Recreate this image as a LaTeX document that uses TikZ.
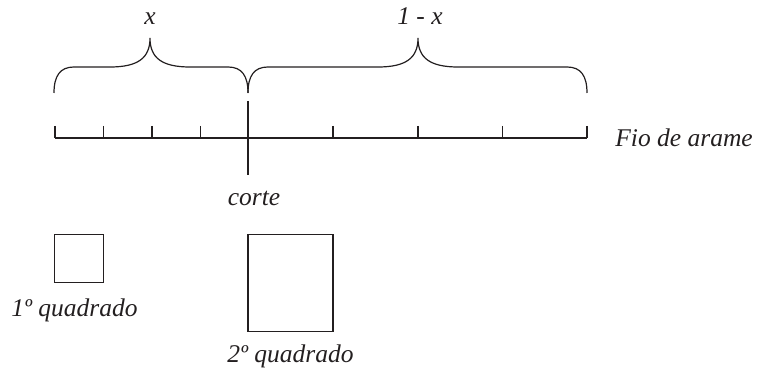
\documentclass[tikz,border=0pt]{standalone}
\usepackage{fontspec}
\setmainfont{Liberation Serif}
\usepackage{tikz}
\usetikzlibrary{positioning, calc}
\definecolor{wireblack}{RGB}{35,31,32}

% chave: ponta esquerda, bico, ponta direita
\newcommand{\chave}[3]{%
    \draw[wire] (#1,93) .. controls (#1,76) and (#1+6,67) .. (#1+20,67)
        -- (#2-40,67) .. controls (#2-12,67) and (#2,58) .. (#2,38)
        .. controls (#2,58) and (#2+12,67) .. (#2+40,67)
        -- (#3-20,67) .. controls (#3-6,67) and (#3,76) .. (#3,93);}

\begin{document}
\begin{tikzpicture}[
        x=0.5pt, y=-0.5pt,
        wire/.style={draw=wireblack, line width=0.6pt},
        rotulo/.style={inner sep=0pt, anchor=base, text=wireblack, font=\fontsize{12.75}{15}\selectfont\itshape},
        quad/.style={rectangle, draw=wireblack, line width=0.6pt, inner sep=0pt}
    ]
        \useasboundingbox (0,0) rectangle (757,373);

        \coordinate (ini)   at (55,138);
        \coordinate (fim)   at (587,138);
        \coordinate (cima)  at (248,101);
        \coordinate (baixo) at (248,175);

        % fio e marcas
        \draw[wire] (ini) -- (fim);
        \foreach \t in {55,103.5,152,200.5,333,418,502.5,587}
            \draw[wire] (\t,126) -- (\t,138);
        \draw[wire] (cima) -- (baixo);

        % chaves
        \chave{54}{150}{248}
        \chave{248}{418}{587}

        \node[rotulo] (lx)    at (150,25)  {x};
        \node[rotulo] (lumx)  at (420,25)  {1 - x};
        \node[rotulo, anchor=base west] (fio) at (615,147) {Fio de arame};
        \node[rotulo] (corte) at (254,206) {corte};

        % quadrados
        \node[quad, minimum width=24.2pt, minimum height=24.2pt] (q1) at (79,258.5) {};
        \node[quad, minimum width=42.5pt, minimum height=48.7pt] (q2) at (290.5,283) {};
        \node[rotulo] (lq1) at (74.5,317) {1º quadrado};
        \node[rotulo] (lq2) at (290.5,363) {2º quadrado};
    \end{tikzpicture}
\end{document}
